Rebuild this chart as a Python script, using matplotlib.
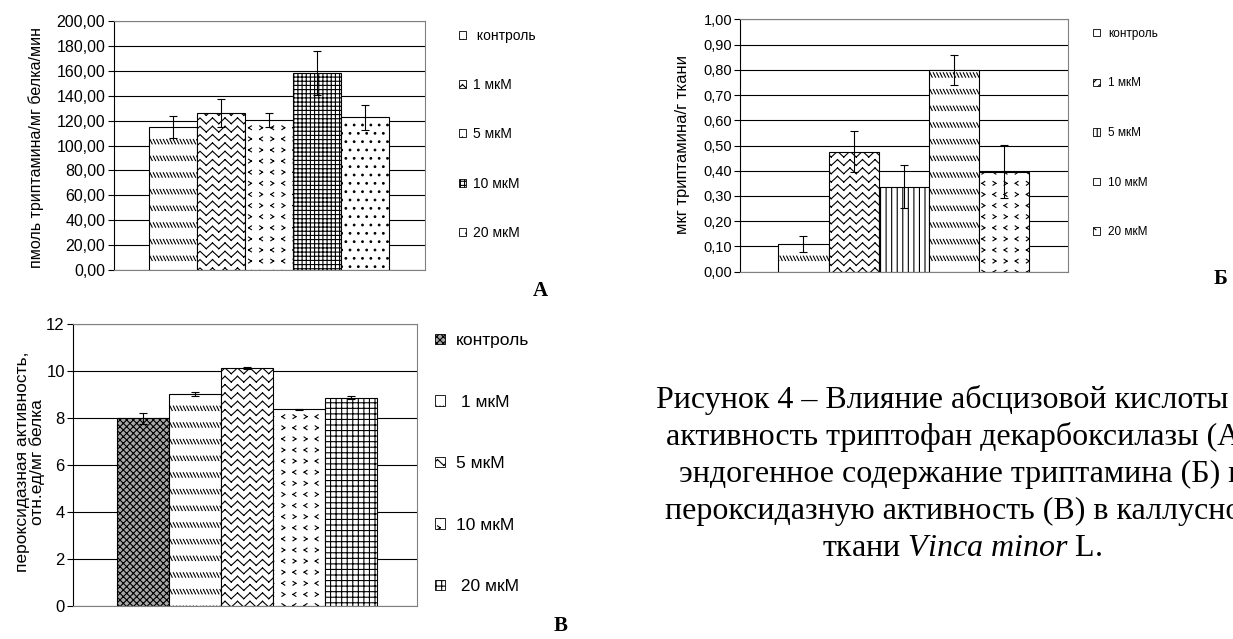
import warnings
import numpy as np
import matplotlib
matplotlib.use("Agg")
import matplotlib.pyplot as plt
import matplotlib.hatch as mhatch
from matplotlib.path import Path
from matplotlib.patches import Rectangle
from matplotlib.ticker import FuncFormatter, MultipleLocator

warnings.filterwarnings("ignore")

# ---- data -------------------------------------------------------------
groups = ["контроль", "1 мкМ", "5 мкМ", "10 мкМ", "20 мкМ"]

tdc_values = [115.0, 126.0, 120.8, 158.6, 122.5]      # A
tdc_errors = [9.0, 11.5, 5.7, 17.7, 10.2]

tryptamine_values = [0.11, 0.476, 0.337, 0.80, 0.396]  # Б
tryptamine_errors = [0.033, 0.081, 0.086, 0.06, 0.105]

perox_values = [8.0, 9.02, 10.13, 8.38, 8.87]          # В
perox_errors = [0.23, 0.08, 0.05, 0.02, 0.06]

caption_lines = [
    "Рисунок 4 – Влияние абсцизовой кислоты на",
    "активность триптофан декарбоксилазы (А),",
    "эндогенное содержание триптамина (Б) и",
    "пероксидазную активность (В) в каллусной",
    "ткани $\\mathit{Vinca\\ minor}$ L.",
]


# ---- custom hatch patterns (zigzag, chevrons, dashed backslash) --------
class ZigZagHatch(mhatch.HatchPatternBase):
    def __init__(self, hatch, density):
        self.rows = hatch.count("z") * 12
        self.teeth = 8
        self.num_vertices = self.rows * self.teeth * 4

    def set_vertices_and_codes(self, vertices, codes):
        ys = (np.arange(self.rows) + 0.5) / self.rows
        xs = np.linspace(0, 1, 2 * self.teeth + 1)
        amp = 0.35 / self.rows
        offs = np.where(np.arange(xs.size) % 2 == 0, amp, -amp)
        pts = []
        for y in ys:
            for j in range(2 * self.teeth):
                pts.append((xs[j], y + offs[j]))
                pts.append((xs[j + 1], y + offs[j + 1]))
        vertices[:] = np.array(pts)
        codes[0::2] = Path.MOVETO
        codes[1::2] = Path.LINETO


class ChevronHatch(mhatch.HatchPatternBase):
    def __init__(self, hatch, density):
        self.n = hatch.count("v") * 9
        self.num_vertices = self.n * self.n * 4

    def set_vertices_and_codes(self, vertices, codes):
        cell = 1.0 / self.n
        w, h = 0.13 * cell, 0.17 * cell
        pts = []
        for i in range(self.n):
            for j in range(self.n):
                cx = (j + 0.5) * cell
                cy = (i + 0.5) * cell
                d = w if (i + j) % 2 == 0 else -w
                pts += [(cx + d, cy + h), (cx - d, cy),
                        (cx - d, cy), (cx + d, cy - h)]
        vertices[:] = np.array(pts)
        codes[0::2] = Path.MOVETO
        codes[1::2] = Path.LINETO


class DashHatch(mhatch.HatchPatternBase):
    def __init__(self, hatch, density):
        self.rows = hatch.count("d") * 6
        self.m = 30
        self.num_vertices = self.rows * self.m * 2

    def set_vertices_and_codes(self, vertices, codes):
        hh = 0.022
        pts = []
        for i in range(self.rows):
            y = (i + 0.5) / self.rows
            for j in range(self.m):
                x = j / self.m
                pts += [(x, y + hh), (x + 0.022, y - hh)]
        vertices[:] = np.array(pts)
        codes[0::2] = Path.MOVETO
        codes[1::2] = Path.LINETO


mhatch._hatch_types += [ZigZagHatch, ChevronHatch, DashHatch]

plt.rcParams["font.family"] = ["Liberation Sans", "DejaVu Sans"]
plt.rcParams["hatch.linewidth"] = 0.8
plt.rcParams["mathtext.fontset"] = "custom"
plt.rcParams["mathtext.rm"] = "Liberation Serif"
plt.rcParams["mathtext.it"] = "Liberation Serif:italic"

W, H = 1233, 639
fig = plt.figure(figsize=(W / 100, H / 100), dpi=100)


def add_axes_px(left, top, right, bottom):
    return fig.add_axes([left / W, 1 - bottom / H, (right - left) / W, (bottom - top) / H])


def comma_fmt(digits):
    return FuncFormatter(lambda v, p: f"{v:.{digits}f}".replace(".", ","))


def draw_panel(ax, values, errors, hatches, faces, ylim, step, digits,
               pads, ticksize):
    x = np.arange(len(values))
    bars = ax.bar(x, values, width=1.0, color=faces, edgecolor="black",
                  linewidth=0.8, hatch=hatches)
    ax.errorbar(x, values, yerr=errors, fmt="none", ecolor="black",
                elinewidth=0.8, capsize=3, capthick=0.8)
    ax.set_xlim(-0.5 - pads[0], len(values) - 0.5 + pads[1])
    ax.set_ylim(*ylim)
    ax.yaxis.set_major_locator(MultipleLocator(step))
    ax.yaxis.set_major_formatter(comma_fmt(digits))
    ax.yaxis.grid(True, color="black", linewidth=0.8)
    ax.set_axisbelow(True)
    ax.set_xticks([])
    ax.tick_params(axis="y", direction="out", length=4, width=0.8,
                   labelsize=ticksize, pad=2)
    for s in ["top", "right", "bottom"]:
        ax.spines[s].set_color("#808080")
        ax.spines[s].set_linewidth(0.8)
    ax.spines["left"].set_color("black")
    ax.spines["left"].set_linewidth(0.8)
    return bars


def add_legend(ax, labels, hatches, faces, x_px, top_px, size, spacing,
               hlen, tpad):
    handles = [Rectangle((0, 0), 1, 1, facecolor=f, edgecolor="black",
                         linewidth=0.6, hatch=h)
               for h, f in zip(hatches, faces)]
    ax.legend(handles, labels, loc="upper left",
              bbox_to_anchor=(x_px / W, 1 - top_px / H),
              bbox_transform=fig.transFigure, frameon=False,
              fontsize=size, labelspacing=spacing, handlelength=hlen,
              handleheight=hlen, handletextpad=tpad, borderpad=0,
              borderaxespad=0)


# ---- panel A -------------------------------------------------------------
hatch_a = ["d", "z", "v", "++++", ".."]
face_a = ["white"] * 5
ax_a = add_axes_px(113.6, 21, 425, 270)
draw_panel(ax_a, tdc_values, tdc_errors, hatch_a, face_a, (0, 200), 20, 2,
           (0.744, 0.744), 11.5)
add_legend(ax_a, [" " + groups[0]] + groups[1:], hatch_a, face_a,
           459, 28.7, 10, 2.54, 0.5, 0.5)
fig.text(36 / W, 1 - 147.5 / H, "пмоль триптамина/мг белка/мин",
         rotation=90, ha="center", va="center", fontsize=11.5)
fig.text(540 / W, 1 - 291 / H, "А", ha="center", va="center",
         fontsize=15, fontweight="bold", family="Liberation Serif")

# ---- panel Б -------------------------------------------------------------
hatch_b = ["d", "z", "|||", "d", "v"]
face_b = ["white"] * 5
ax_b = add_axes_px(740.4, 19.3, 1067.6, 271.7)
draw_panel(ax_b, tryptamine_values, tryptamine_errors, hatch_b, face_b,
           (0, 1.0), 0.1, 2, (0.755, 0.763), 10.5)
add_legend(ax_b, groups, hatch_b, face_b, 1093, 27.9, 8.5, 3.18, 0.6, 0.68)
fig.text(682.5 / W, 1 - 145 / H, "мкг триптамина/г ткани",
         rotation=90, ha="center", va="center", fontsize=12)
fig.text(1221 / W, 1 - 279 / H, "Б", ha="center", va="center",
         fontsize=15, fontweight="bold", family="Liberation Serif")

# ---- panel В -------------------------------------------------------------
hatch_c = ["xxxxx", "d", "z", "v", "+++"]
face_c = ["#a8a8a8", "white", "white", "white", "white"]
ax_c = add_axes_px(73.2, 324.3, 416.8, 606)
draw_panel(ax_c, perox_values, perox_errors, hatch_c, face_c, (0, 12), 2, 0,
           (0.836, 0.754), 12)
add_legend(ax_c, [groups[0], " " + groups[1], groups[2], groups[3],
                  " " + groups[4]], hatch_c, face_c, 435, 333, 12.5, 2.68,
           0.55, 0.66)
fig.text(30 / W, 1 - 462 / H, "пероксидазная активность,\nотн.ед/мг белка",
         rotation=90, ha="center", va="center", fontsize=12.5,
         linespacing=1.0)
fig.text(561 / W, 1 - 626 / H, "В", ha="center", va="center",
         fontsize=15, fontweight="bold", family="Liberation Serif")

# ---- caption ---------------------------------------------------------------
for i, line in enumerate(caption_lines):
    fig.text(962 / W, 1 - (400 + 37 * i) / H, line, ha="center", va="center",
             fontsize=23, family="Liberation Serif")

fig.savefig("out.png", dpi=100, facecolor="white")
